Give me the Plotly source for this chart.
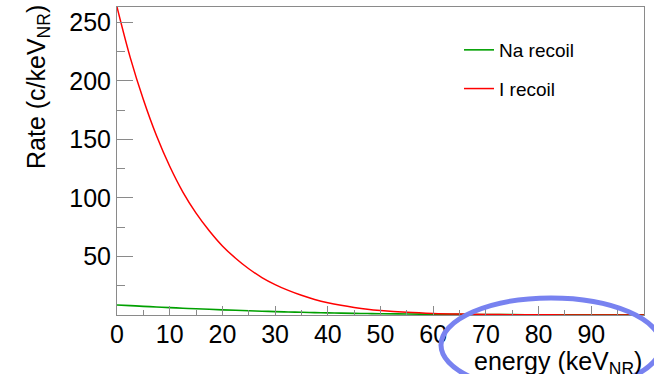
import plotly.graph_objects as go

# ---- data ----
energy = [0, 2.5, 5, 7.5, 10, 12.5, 15, 17.5, 20, 22.5, 25, 27.5, 30, 32.5, 35, 37.5,
          40, 42.5, 45, 47.5, 50, 55, 60, 65, 70, 75, 80, 85, 90, 95, 100]
na_rate = [8.6, 8.0, 7.4, 6.85, 6.3, 5.8, 5.3, 4.85, 4.4, 4.0, 3.6, 3.25, 2.9, 2.6, 2.3, 2.05,
           1.8, 1.6, 1.4, 1.25, 1.1, 0.85, 0.65, 0.5, 0.4, 0.3, 0.25, 0.2, 0.15, 0.12, 0.1]
i_rate = [263, 220, 184, 153, 127, 105, 87, 72, 59, 48.5, 39.5, 32, 26, 21, 16.8, 13.3,
          10.5, 8.3, 6.5, 5.0, 3.9, 2.3, 1.3, 0.75, 0.45, 0.27, 0.16, 0.1, 0.06, 0.04, 0.02]
x_ticks = [0, 10, 20, 30, 40, 50, 60, 70, 80, 90]
y_ticks = [50, 100, 150, 200, 250]

W, H = 654, 374
L, R, T, B = 117, 10, 7, 59
PW, PH = W - L - R, H - T - B


def px_x(px):
    return (px - L) / PW


def px_y(py):
    return (H - B - py) / PH


FONT = "Liberation Sans, Arial, Helvetica, sans-serif"
AXC = "#8a8a8a"
FS = 25

fig = go.Figure()
fig.add_trace(go.Scatter(x=energy, y=na_rate, mode="lines", name="Na recoil",
                         legendgroup="na",
                         line=dict(color="#00a000", width=1.6, shape="spline")))
fig.add_trace(go.Scatter(x=energy, y=i_rate, mode="lines", name="I recoil",
                         legendgroup="i",
                         line=dict(color="#ff0000", width=1.5, shape="spline")))

fig.update_layout(
    width=W, height=H, autosize=False,
    margin=dict(l=L, r=R, t=T, b=B, pad=0),
    paper_bgcolor="white", plot_bgcolor="white",
    font=dict(family=FONT, size=FS, color="black"),
    showlegend=True,
    legend=dict(x=px_x(459), y=px_y(31), xanchor="left", yanchor="top",
                font=dict(size=19, family=FONT, color="black"),
                bgcolor="rgba(0,0,0,0)", borderwidth=0,
                tracegroupgap=11, itemwidth=30),
    xaxis=dict(range=[0, 100], showgrid=False, zeroline=False,
               showline=True, linecolor=AXC, linewidth=1, mirror=True,
               tickmode="array", tickvals=x_ticks,
               ticks="inside", ticklen=9, tickcolor=AXC, tickwidth=1,
               ticklabelstandoff=-3,
               tickfont=dict(size=FS, family=FONT, color="black"),
               minor=dict(tickmode="linear", tick0=0, dtick=5, ticks="inside",
                          ticklen=5, tickcolor=AXC, tickwidth=1)),
    yaxis=dict(range=[0, 263], showgrid=False, zeroline=False,
               showline=True, linecolor=AXC, linewidth=1, mirror=True,
               tickmode="array", tickvals=y_ticks,
               ticks="inside", ticklen=16, tickcolor=AXC, tickwidth=1,
               tickfont=dict(size=FS, family=FONT, color="black"),
               minor=dict(tickmode="linear", tick0=0, dtick=25, ticks="inside",
                          ticklen=8, tickcolor=AXC, tickwidth=1)),
)

# axis titles (ROOT style, aligned to axis end)
fig.add_annotation(text="energy (keV<sub>NR</sub>)", xref="paper", yref="paper",
                   x=1.0, y=px_y(345), xanchor="right", yanchor="top",
                   showarrow=False, font=dict(size=FS, family=FONT, color="black"))
fig.add_annotation(text="Rate (c/keV<sub>NR</sub>)", xref="paper", yref="paper",
                   x=px_x(38), y=px_y(3), xanchor="center", yanchor="top",
                   textangle=-90, showarrow=False,
                   font=dict(size=FS, family=FONT, color="black"))

# hand-drawn blue ellipse marking the x-axis title
fig.add_shape(type="circle", xref="paper", yref="paper",
              x0=px_x(441), x1=px_x(661), y0=px_y(298), y1=px_y(392),
              line=dict(color="rgb(120,130,240)", width=5), layer="above")

fig.write_html("out.html")
